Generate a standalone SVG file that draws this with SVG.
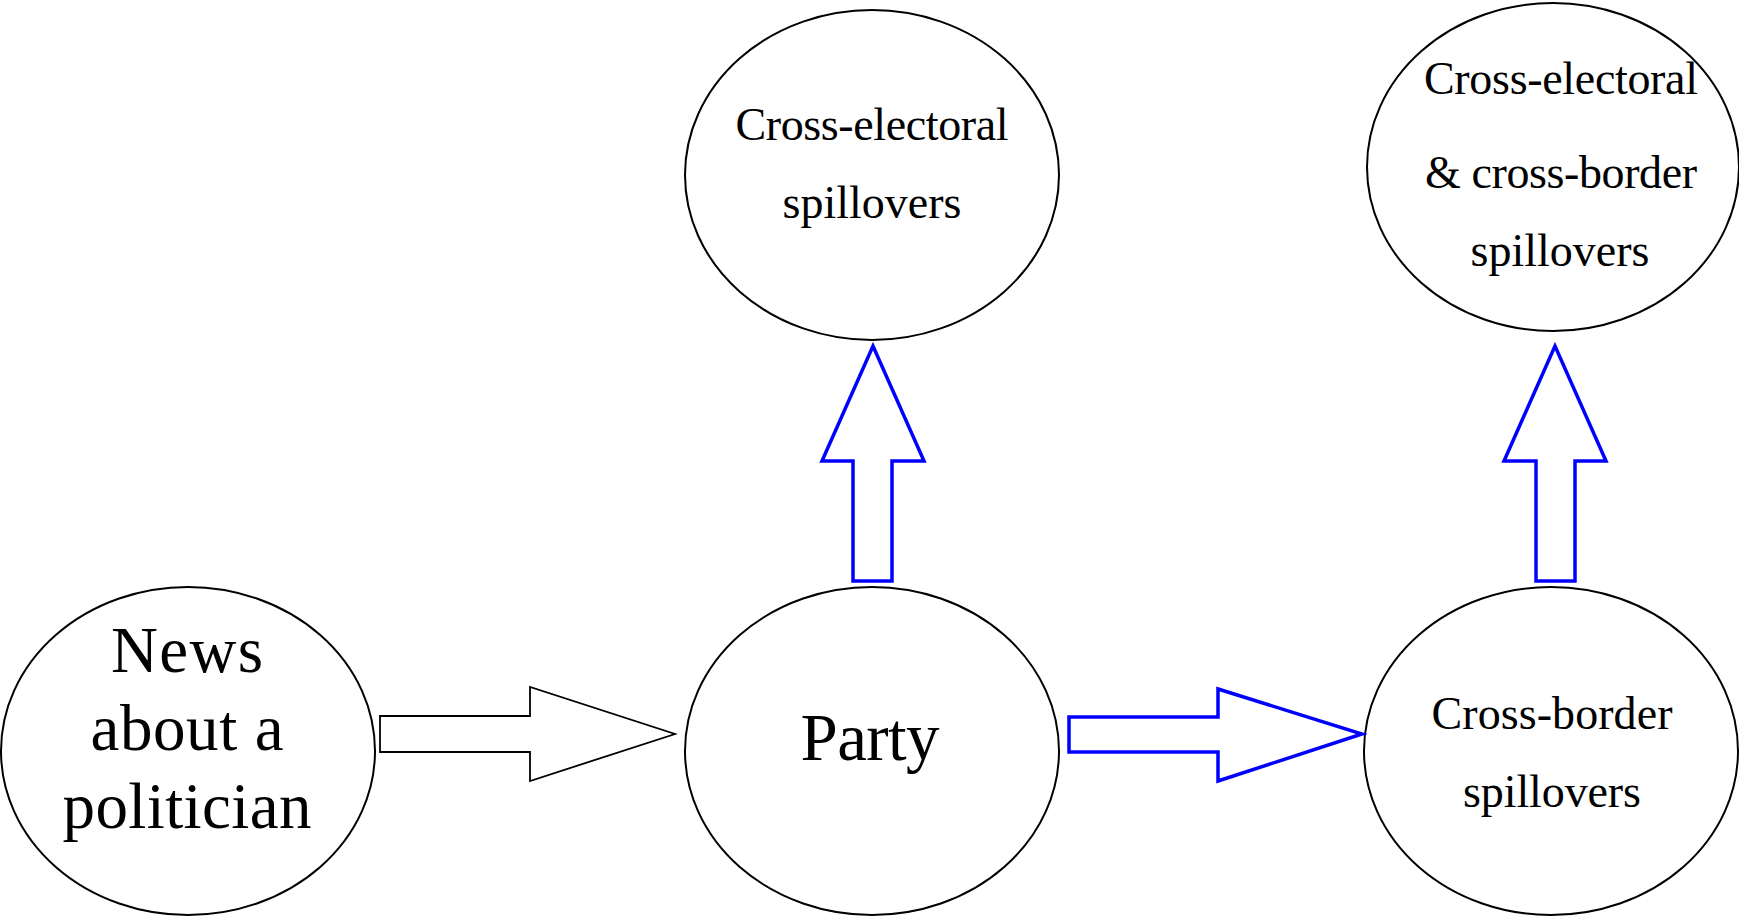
<svg xmlns="http://www.w3.org/2000/svg" width="1739" height="916" viewBox="0 0 1739 916">
<style>
.node ellipse{fill:#fff;stroke:#000;stroke-width:2}
text{font-family:"Liberation Serif","DejaVu Serif",serif;fill:#000;text-anchor:middle}
.big{font-size:65px}
.party{font-size:67px}
.small{font-size:46px}
.blk{fill:#fff;stroke:#000;stroke-width:1.8;stroke-linejoin:miter}
.blu{fill:#fff;stroke:#0000ff;stroke-width:3.5;stroke-linejoin:miter}
</style>
<rect width="1739" height="916" fill="#fff"/>
<g id="news" class="node">
<ellipse cx="188" cy="751" rx="187" ry="164"/>
<text class="big" x="187" y="672" textLength="152">News</text>
<text class="big" x="187" y="750" textLength="193">about a</text>
<text class="big" x="187" y="828" textLength="249">politician</text>
</g>
<g id="party" class="node">
<ellipse cx="872" cy="751" rx="187" ry="164"/>
<text class="party" x="870" y="760" textLength="139">Party</text>
</g>
<g id="crossborder" class="node">
<ellipse cx="1551" cy="751" rx="187" ry="164"/>
<text class="small" x="1552" y="729" textLength="241">Cross-border</text>
<text class="small" x="1552" y="807" textLength="178">spillovers</text>
</g>
<g id="crosselectoral" class="node">
<ellipse cx="872" cy="175" rx="187" ry="165"/>
<text class="small" x="872" y="140" textLength="273">Cross-electoral</text>
<text class="small" x="872" y="218" textLength="179">spillovers</text>
</g>
<g id="both" class="node">
<ellipse cx="1553" cy="167" rx="186" ry="164"/>
<text class="small" x="1561" y="94" textLength="274">Cross-electoral</text>
<text class="small" x="1561" y="188" textLength="272">&amp; cross-border</text>
<text class="small" x="1560" y="266" textLength="179">spillovers</text>
</g>
<g id="connectors">
<polygon class="blk" points="380,716 530,716 530,687 675,734 530,781 530,752 380,752"/>
<polygon class="blu" points="1069,717 1218,717 1218,689 1362,734 1218,781 1218,752 1069,752"/>
<polygon class="blu" points="853,581 853,461 822,461 873,346 924,461 892,461 892,581"/>
<polygon class="blu" points="1536,581 1536,461 1504,461 1555,346 1606,461 1575,461 1575,581"/>
</g>
</svg>
